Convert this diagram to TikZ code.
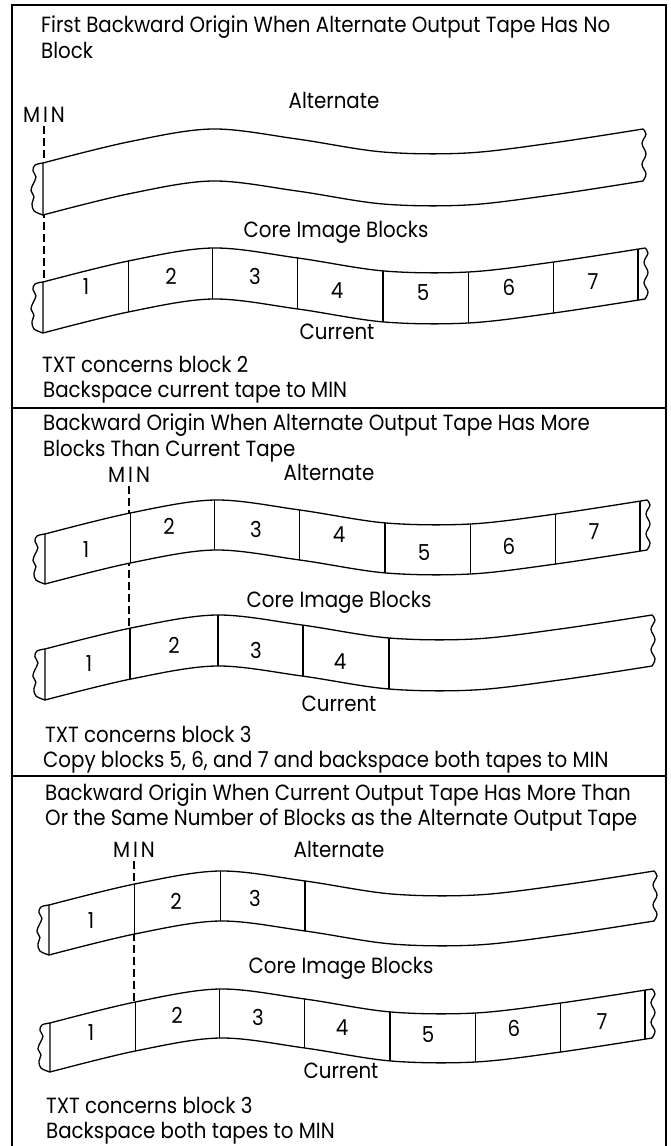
\documentclass[tikz,border=0pt]{standalone}
\usepackage{fontspec}
\setmainfont{Poppins}[FakeStretch=0.9]
\newcommand{\tapeout}[1]{plot[smooth,tension=0.55] coordinates {(0,0) (85,-21) (169,-34) (254,-24) (340,-11) (424,-10) (509,-20) (600,-34)} -- plot[smooth,tension=0.6] coordinates {(600,-34) (603,{-34+0.1*#1}) (599,{-34+0.28*#1}) (603,{-34+0.48*#1}) (599,{-34+0.68*#1}) (603,{-34+0.86*#1}) (600,{-34+#1})} -- plot[smooth,tension=0.55] coordinates {(600,{-34+#1}) (509,{-20+#1}) (424,{-10+#1}) (340,{-11+#1}) (254,{-24+#1}) (169,{-34+#1}) (85,{-21+#1}) (0,#1)} -- cycle}
\newcommand{\tape}[5]{%
 \begin{scope}[shift={(#1,#2)},xscale=#3/600]
  \draw[tapeline,fill=white] \tapeout{#4};
  \begin{scope}
   \clip \tapeout{#4};
   \foreach \d in {#5} {\draw[tapeline] (\d,-60) -- (\d,{#4+10});}
  \end{scope}
  \draw[tapeline] plot[smooth,tension=0.6] coordinates {(0,0) (-8,{0.04*#4}) (-10,{0.15*#4}) (-7,{0.27*#4}) (-10,{0.41*#4}) (-12,{0.53*#4}) (-9,{0.65*#4}) (-11,{0.78*#4}) (-9,{0.92*#4}) (0,#4)};
 \end{scope}}
\begin{document}
\begin{tikzpicture}[x=1pt,y=-1pt,
  frameline/.style={line width=1.4pt},
  tapeline/.style={line width=1.3pt, line join=round},
  minline/.style={line width=1.1pt, dash pattern=on 8pt off 4pt},
  lbl/.style={inner sep=0pt, font=\fontsize{22}{26}\selectfont},
  txt/.style={lbl, anchor=base west},
  ctr/.style={lbl, anchor=base},
  num/.style={lbl, anchor=center}]
\useasboundingbox (0,0) rectangle (670,1146);
% frame
\draw[frameline] (12,1146) -- (12,5) -- (666,5) -- (666,1146);
\draw[frameline] (12,408) -- (666,408);
\draw[frameline] (12,776) -- (666,776);

% ---------- section 1
\node[txt] (s1t1) at (41,32) {First Backward Origin When Alternate Output Tape Has No};
\node[txt] (s1t2) at (41,58) {Block};
\node[ctr] (s1min) at (44,122) {M\hspace{3pt}I\hspace{3pt}N};
\node[ctr] (s1alt) at (334,108) {Alternate};
\node[ctr] (s1core) at (336,237) {Core Image Blocks};
\node[ctr] (s1cur) at (337,339) {Current};
\node[txt] (s1n1) at (42,372) {TXT concerns block 2};
\node[txt] (s1n2) at (43,397) {Backspace current tape to MIN};
\coordinate (s1da) at (44,126);
\coordinate (s1db) at (44,282);
\draw[minline] (s1da) -- (s1db);
\tape{43}{163}{600}{52}{-50}
\tape{43}{282}{602}{51}{85,169,254,339,424,509,593}
\foreach \n/\x/\y in {1/86/287,2/171/276,3/255/276,4/337/291,5/423/293,6/509/287,7/593/282}
  \node[num] (s1b\n) at (\x,\y) {\n};

% ---------- section 2
\node[txt] (s2t1) at (43,430) {Backward Origin When Alternate Output Tape Has More};
\node[txt] (s2t2) at (43,456) {Blocks Than Current Tape};
\node[ctr] (s2min) at (129,482) {M\hspace{3pt}I\hspace{3pt}N};
\node[ctr] (s2alt) at (329,480) {Alternate};
\node[ctr] (s2core) at (339,607) {Core Image Blocks};
\node[ctr] (s2cur) at (339,711) {Current};
\node[txt] (s2n1) at (45,742) {TXT concerns block 3};
\node[txt] (s2n2) at (43,767) {Copy blocks 5, 6, and 7 and backspace both tapes to MIN};
\coordinate (s2da) at (129,486);
\coordinate (s2db) at (129,628);
\draw[minline] (s2da) -- (s2db);
\tape{45}{534}{602}{50}{85,169,254,339,424,509,593}
\tape{45}{649}{607}{51}{84,171,255,340}
\foreach \n/\x/\y in {1/86/550,2/169/526,3/256/529,4/339/535,5/424/553,6/509/546,7/594/532}
  \node[num] (s2a\n) at (\x,\y) {\n};
\foreach \n/\x/\y in {1/89/664,2/174/645,3/256/650,4/340/662}
  \node[num] (s2c\n) at (\x,\y) {\n};

% ---------- section 3
\node[txt] (s3t1) at (45,800) {Backward Origin When Current Output Tape Has More Than};
\node[txt] (s3t2) at (45,825) {Or the Same Number of Blocks as the Alternate Output Tape};
\node[ctr] (s3min) at (134,857) {M\hspace{3pt}I\hspace{3pt}N};
\node[ctr] (s3alt) at (339,857) {Alternate};
\node[ctr] (s3core) at (341,973) {Core Image Blocks};
\node[ctr] (s3cur) at (341,1078) {Current};
\node[txt] (s3n1) at (46,1113) {TXT concerns block 3};
\node[txt] (s3n2) at (46,1138) {Backspace both tapes to MIN};
\coordinate (s3da) at (134,861);
\coordinate (s3db) at (134,1002);
\draw[minline] (s3da) -- (s3db);
\tape{49}{905}{605}{50}{85,170,254}
\tape{50}{1023}{602}{49}{85,169,254,339,424,509,593}
\foreach \n/\x/\y in {1/91/921,2/176/901,3/255/898}
  \node[num] (s3a\n) at (\x,\y) {\n};
\foreach \n/\x/\y in {1/91/1033,2/177/1015,3/258/1017,4/342/1028,5/428/1035,6/514/1028,7/602/1022}
  \node[num] (s3c\n) at (\x,\y) {\n};
\end{tikzpicture}
\end{document}
